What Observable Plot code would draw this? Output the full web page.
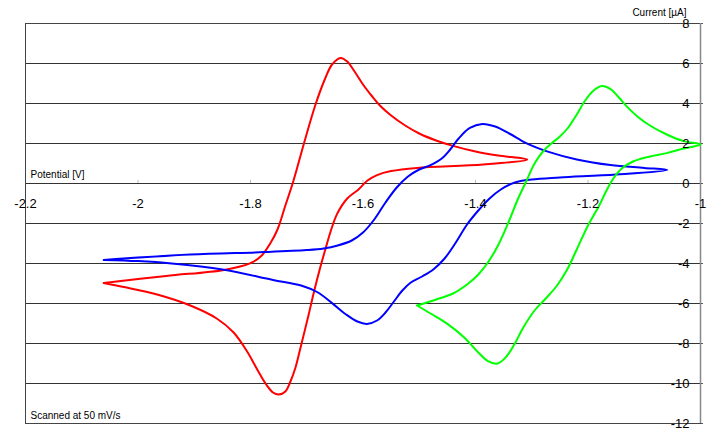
<!DOCTYPE html>
<html>
<head>
<meta charset="utf-8">
<script src="https://cdn.jsdelivr.net/npm/d3@7"></script>
<script src="https://cdn.jsdelivr.net/npm/@observablehq/plot@0.6"></script>
<style>
  html, body { margin: 0; padding: 0; background: #fff; }
  #chart svg { display: block; }
</style>
</head>
<body>
<div id="chart"></div>
<script>
// Tick values
const xTicks = [-2.2, -2, -1.8, -1.6, -1.4, -1.2, -1];
const yTicks = [8, 6, 4, 2, 0, -2, -4, -6, -8, -10, -12];

// Red voltammogram (loop: left vertex -> upper branch -> right vertex -> lower branch -> left vertex)
const redX = [-2.061, -1.95, -1.847, -1.8, -1.78, -1.765, -1.752, -1.738, -1.724, -1.705, -1.685, -1.668, -1.655, -1.64,
  -1.628, -1.615, -1.60, -1.585, -1.57, -1.55, -1.525, -1.50, -1.47, -1.44, -1.40, -1.36, -1.308,
  -1.386, -1.504, -1.55, -1.575, -1.592, -1.608, -1.628, -1.646, -1.657, -1.667, -1.677, -1.687, -1.697, -1.711, -1.72, -1.729, -1.738,
  -1.75, -1.76, -1.772, -1.788, -1.806, -1.83, -1.86, -1.907, -1.966, -2.025, -2.061];
const redY = [-4.98, -4.62, -4.32, -3.98, -3.6, -3.0, -2.3, -1.1, 0.1, 2.0, 3.9, 5.2, 5.95, 6.28,
  6.1, 5.6, 4.95, 4.4, 3.9, 3.4, 2.9, 2.5, 2.15, 1.88, 1.6, 1.4, 1.2,
  0.95, 0.78, 0.62, 0.42, 0.15, -0.3, -0.75, -1.52, -2.35, -3.3, -4.3, -5.4, -6.6, -8.2, -9.2, -9.9, -10.4,
  -10.55, -10.45, -10.05, -9.3, -8.4, -7.45, -6.75, -6.1, -5.55, -5.18, -4.98];

// Blue voltammogram
const blueX = [-2.061, -1.907, -1.776, -1.70, -1.67, -1.645, -1.62, -1.60, -1.58, -1.56, -1.54, -1.52, -1.50, -1.48, -1.46, -1.445, -1.43, -1.41, -1.388,
  -1.365, -1.34, -1.31, -1.27, -1.22, -1.16, -1.10, -1.059,
  -1.15, -1.25, -1.30, -1.33, -1.355, -1.375, -1.395, -1.415, -1.435, -1.455, -1.475, -1.495, -1.515, -1.53, -1.545, -1.56, -1.575, -1.593,
  -1.61, -1.63, -1.655, -1.68, -1.71, -1.76, -1.85, -1.94, -2.0, -2.061];
const blueY = [-3.82, -3.55, -3.43, -3.33, -3.25, -3.1, -2.85, -2.45, -1.8, -0.95, -0.2, 0.35, 0.7, 0.92, 1.25, 1.7, 2.25, 2.78, 2.98,
  2.85, 2.5, 2.02, 1.58, 1.2, 0.92, 0.78, 0.68,
  0.45, 0.3, 0.2, 0.05, -0.3, -0.75, -1.35, -2.05, -2.95, -3.75, -4.3, -4.65, -4.95, -5.35, -5.9, -6.45, -6.85, -7.02,
  -6.9, -6.55, -5.98, -5.45, -5.1, -4.82, -4.3, -4.0, -3.88, -3.82];

// Green voltammogram
const greenX = [-1.504, -1.47, -1.44, -1.415, -1.395, -1.378, -1.36, -1.34, -1.325, -1.31, -1.295, -1.28, -1.265, -1.25, -1.235, -1.22, -1.205, -1.19, -1.175,
  -1.16, -1.145, -1.13, -1.11, -1.09, -1.06, -1.03, -1.0,
  -1.03, -1.06, -1.095, -1.12, -1.14, -1.155, -1.168, -1.18, -1.20, -1.22, -1.237, -1.255, -1.275, -1.295, -1.315, -1.33, -1.345, -1.361,
  -1.378, -1.395, -1.42, -1.45, -1.48, -1.504];
const greenY = [-6.1, -5.8, -5.5, -5.05, -4.55, -3.95, -3.1, -1.85, -0.8, 0.1, 1.0, 1.6, 2.0, 2.35, 2.8, 3.45, 4.15, 4.65, 4.87,
  4.72, 4.3, 3.82, 3.3, 2.9, 2.45, 2.12, 1.95,
  1.75, 1.52, 1.32, 1.1, 0.75, 0.25, -0.4, -1.1, -2.1, -3.3, -4.3, -5.1, -5.75, -6.35, -7.2, -8.0, -8.65, -9.0,
  -8.88, -8.45, -7.7, -7.02, -6.5, -6.1];

const seriesColors = ["#ff0000", "#0000ff", "#00ff00"];

const xLabel = "Potential [V]";
const yLabel = "Current [µA]";
const note = "Scanned at 50 mV/s";

const toRows = (xs, ys) => xs.map((x, i) => ({x, y: ys[i]}));
const series = [toRows(redX, redY), toRows(blueX, blueY), toRows(greenX, greenY)];

const chart = Plot.plot({
  width: 727,
  height: 448,
  marginLeft: 25,
  marginRight: 27,
  marginTop: 23,
  marginBottom: 25,
  x: {domain: [-2.2, -1], axis: null},
  y: {domain: [-12, 8], axis: null},
  style: {fontFamily: "'Liberation Sans', Arial, sans-serif", background: "#fff"},
  marks: [
    Plot.ruleY(yTicks, {x1: -2.2, x2: -1, stroke: "#333", strokeWidth: 1}),
    Plot.ruleY(yTicks, {x1: -1, x2: -1 + 3 / 562.5, stroke: "#555", strokeWidth: 1}),
    Plot.ruleX(xTicks, {y1: 0, y2: 0.15, stroke: "#bbb", strokeWidth: 1}),
    Plot.frame({stroke: "#444", strokeWidth: 1}),
    Plot.ruleX([-1], {stroke: "#888", strokeWidth: 1.5}),
    ...series.map((rows, i) => Plot.line(rows, {x: "x", y: "y", stroke: seriesColors[i], strokeWidth: 2, curve: "catmull-rom"})),
    Plot.text(yTicks, {x: -1, y: d => d, text: d => String(d), dx: -11, textAnchor: "end", fontSize: 13, fill: "#000"}),
    Plot.text(xTicks, {x: d => d, y: 0, text: d => String(d), dy: 20, fontSize: 13, fill: "#000"}),
    Plot.text([xLabel], {x: -2.2, y: 0, text: d => d, dx: 5, dy: -9, textAnchor: "start", fontSize: 10, fill: "#000"}),
    Plot.text([yLabel], {x: -1, y: 8, text: d => d, dx: -14, dy: -11, textAnchor: "end", fontSize: 10, fill: "#000"}),
    Plot.text([note], {x: -2.2, y: -12, text: d => d, dx: 5, dy: -8, textAnchor: "start", fontSize: 10, fill: "#000"})
  ]
});
document.getElementById("chart").appendChild(chart);
</script>
</body>
</html>
